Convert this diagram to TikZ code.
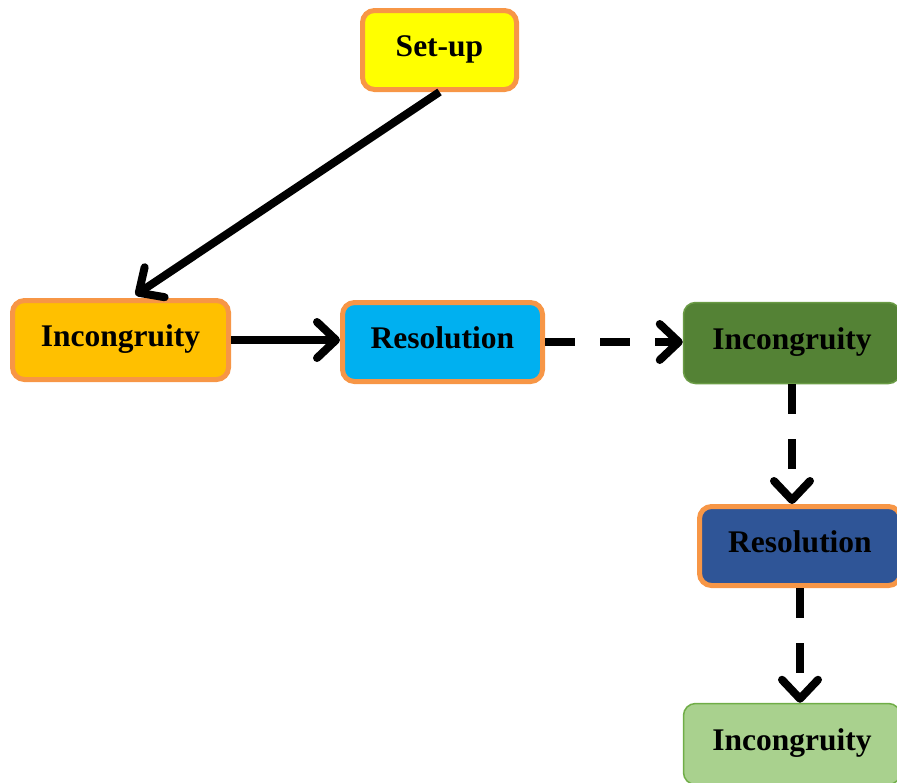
\documentclass[tikz,border=0pt]{standalone}
\usepackage{fontspec}
\setmainfont{Liberation Serif}
\usetikzlibrary{arrows.meta,positioning}
\definecolor{boxline}{HTML}{F79646}
\definecolor{setupfill}{HTML}{FFFF00}
\definecolor{incfill}{HTML}{FFC000}
\definecolor{resfill}{HTML}{00B0F0}
\definecolor{incgreen}{HTML}{548235}
\definecolor{incgreenline}{HTML}{6A9B45}
\definecolor{resblue}{HTML}{2F5597}
\definecolor{inclight}{HTML}{A9D18E}
\definecolor{inclightline}{HTML}{70AD47}

\begin{document}
\begin{tikzpicture}[x=1pt,y=-1pt,
  box/.style={rounded corners=12pt, draw=boxline, line width=5pt,
    minimum height=79pt, inner sep=0pt, text height=22pt, text depth=10pt,
    font=\fontsize{31.5}{36}\selectfont\bfseries},
  gbox/.style={box, line width=1.5pt, minimum height=81pt},
  arr/.style={line width=8pt, -{Straight Barb[length=19pt,width=36pt,round]}},
  dasharr/.style={arr, dash pattern=on 30pt off 25pt}]

 \clip (0,0) rectangle (897,782);

 \node[box, fill=setupfill, minimum width=154pt] (setup) at (439.5,50) {Set-up};
 \node[box, fill=incfill, minimum width=216pt] (inc1) at (120.5,340) {Incongruity};
 \node[box, fill=resfill, minimum width=200pt] (res1) at (442.5,342) {Resolution};
 \node[gbox, fill=incgreen, draw=incgreenline, minimum width=217pt] (inc2) at (792,343) {Incongruity};
 \node[box, fill=resblue, minimum width=201pt] (res2) at (800,546) {Resolution};
 \node[gbox, fill=inclight, draw=inclightline, minimum width=217pt] (inc3) at (792,744) {Incongruity};

 % solid arrows
 \draw[arr] (setup.south) -- ([xshift=15pt,yshift=3pt]inc1.north);
 \draw[arr] (inc1.east) -- (res1.west |- inc1.east);

 % dashed arrows
 \draw[dasharr] (res1.east) -- (inc2.west |- res1.east);
 \draw[dasharr] (inc2.south) -- (res2.north -| inc2.south);
 \draw[dasharr] (res2.south) -- (inc3.north -| res2.south);

\end{tikzpicture}
\end{document}
